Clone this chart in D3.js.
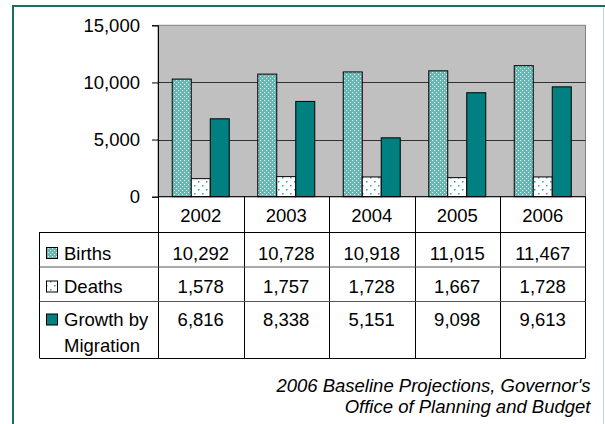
<!DOCTYPE html>
<html>
<head>
<meta charset="utf-8">
<script src="https://cdn.jsdelivr.net/npm/d3@7"></script>
<style>
  body { margin: 0; background: #fff; }
  text { font-family: "Liberation Sans", Arial, sans-serif; }
</style>
</head>
<body>
<script>
var years = ["2002", "2003", "2004", "2005", "2006"];
var seriesNames = ["Births", "Deaths", "Growth by Migration"];
var births = [10292, 10728, 10918, 11015, 11467];
var deaths = [1578, 1757, 1728, 1667, 1728];
var migration = [6816, 8338, 5151, 9098, 9613];
var yTicks = [0, 5000, 10000, 15000];

var seriesValues = [births, deaths, migration];
var fills = ["url(#birthsPat)", "url(#deathsPat)", "#008080"];

var svg = d3.select("body")
  .append("svg")
  .attr("width", 605)
  .attr("height", 424);

// patterns
var defs = svg.append("defs");
var bp = defs.append("pattern")
  .attr("id", "birthsPat")
  .attr("patternUnits", "userSpaceOnUse")
  .attr("width", 4).attr("height", 4);
bp.append("rect").attr("width", 4).attr("height", 4).attr("fill", "#62bab2");
bp.append("rect").attr("width", 1).attr("height", 1).attr("fill", "#e8f7f5");
bp.append("rect").attr("x", 2).attr("y", 2).attr("width", 1).attr("height", 1).attr("fill", "#e8f7f5");

var dp = defs.append("pattern")
  .attr("id", "deathsPat")
  .attr("patternUnits", "userSpaceOnUse")
  .attr("width", 8).attr("height", 8);
dp.append("rect").attr("width", 8).attr("height", 8).attr("fill", "#fff");
dp.append("rect").attr("x", 2).attr("y", 1).attr("width", 1.5).attr("height", 1.5).attr("fill", "#3a9e98");
dp.append("rect").attr("x", 6).attr("y", 5).attr("width", 1.5).attr("height", 1.5).attr("fill", "#3a9e98");

// frame
svg.append("line").attr("x1", 12).attr("x2", 605).attr("y1", 6).attr("y2", 6)
  .attr("stroke", "#1d6c60").attr("stroke-width", 2);
svg.append("line").attr("x1", 13).attr("x2", 13).attr("y1", 5).attr("y2", 424)
  .attr("stroke", "#1d6c60").attr("stroke-width", 2);
svg.append("line").attr("x1", 603.5).attr("x2", 603.5).attr("y1", 7).attr("y2", 424)
  .attr("stroke", "#bcd9d4").attr("stroke-width", 1);

var plotLeft = 158, plotRight = 585.5, plotTop = 25.3, plotBottom = 196.7;

var x = d3.scaleBand().domain(years).range([plotLeft, plotRight]);
var xs = d3.scaleBand().domain(d3.range(3)).range([0, x.bandwidth()])
  .paddingInner(0).paddingOuter(0.75);
var y = d3.scaleLinear().domain([0, 15000]).range([plotBottom, plotTop]);

// plot area
svg.append("rect")
  .attr("x", plotLeft).attr("y", plotTop)
  .attr("width", plotRight - plotLeft).attr("height", plotBottom - plotTop)
  .attr("fill", "#c0c0c0")
  .attr("stroke", "#808080");

svg.selectAll(".grid")
  .data(yTicks.filter(function(d){ return d > 0 && d < 15000; }))
  .enter().append("line")
  .attr("x1", plotLeft).attr("x2", plotRight)
  .attr("y1", function(d){ return Math.round(y(d)) + 0.5; })
  .attr("y2", function(d){ return Math.round(y(d)) + 0.5; })
  .attr("stroke", "#333");

// bars
seriesValues.forEach(function(vals, si) {
  svg.append("g").selectAll("rect")
    .data(vals)
    .enter().append("rect")
    .attr("x", function(d, i){ return x(years[i]) + xs(si); })
    .attr("y", function(d){ return y(d); })
    .attr("width", xs.bandwidth())
    .attr("height", function(d){ return plotBottom - y(d); })
    .attr("fill", fills[si])
    .attr("stroke", "#000")
    .attr("stroke-width", 1);
});

// y axis
var yAxis = svg.append("g")
  .attr("transform", "translate(" + plotLeft + ",0)")
  .call(d3.axisLeft(y).tickValues(yTicks).tickFormat(d3.format(",")).tickSize(6).tickPadding(12));
yAxis.select(".domain").attr("stroke", "#000");
yAxis.selectAll("text")
  .attr("font-size", 18.5)
  .attr("fill", "#000")
  .style("font-family", "'Liberation Sans', Arial, sans-serif");

// data table
var tableLeft = 39.5, headerTop = plotBottom, rowTops = [232, 266.5, 301], tableBottom = 358;

var tbl = svg.append("g").attr("stroke", "#000").attr("fill", "none");
// column lines
years.forEach(function(yr) {
  tbl.append("line")
    .attr("x1", Math.round(x(yr)) + 0.5).attr("x2", Math.round(x(yr)) + 0.5)
    .attr("y1", headerTop).attr("y2", tableBottom);
});
tbl.append("line").attr("x1", plotRight).attr("x2", plotRight)
  .attr("y1", headerTop).attr("y2", tableBottom);
tbl.append("line").attr("x1", tableLeft).attr("x2", tableLeft)
  .attr("y1", rowTops[0]).attr("y2", tableBottom);
// row lines
rowTops.forEach(function(r, i) {
  tbl.append("line")
    .attr("x1", tableLeft).attr("x2", plotRight)
    .attr("y1", r + 0.5).attr("y2", r + 0.5)
    .attr("stroke", i === 0 ? "#000" : "#555");
});
tbl.append("line").attr("x1", tableLeft).attr("x2", plotRight)
  .attr("y1", tableBottom + 0.5).attr("y2", tableBottom + 0.5);
svg.append("line").attr("x1", plotLeft).attr("x2", plotRight)
  .attr("y1", plotBottom).attr("y2", plotBottom).attr("stroke", "#000");

// header labels
svg.selectAll(".yr")
  .data(years)
  .enter().append("text")
  .attr("x", function(d){ return x(d) + x.bandwidth() / 2; })
  .attr("y", 221.5)
  .attr("text-anchor", "middle")
  .attr("font-size", 18.5)
  .text(function(d){ return d; });

var rowBaselines = [259.5, 293, 326];
var fmt = d3.format(",");

seriesValues.forEach(function(vals, si) {
  svg.append("g").selectAll("text")
    .data(vals)
    .enter().append("text")
    .attr("x", function(d, i){ return x(years[i]) + x.bandwidth() / 2; })
    .attr("y", rowBaselines[si])
    .attr("text-anchor", "middle")
    .attr("font-size", 18.5)
    .text(function(d){ return fmt(d); });

  // legend key
  svg.append("rect")
    .attr("x", 46.5).attr("y", rowBaselines[si] - 12)
    .attr("width", 11).attr("height", 11)
    .attr("fill", fills[si])
    .attr("stroke", "#000");
});

svg.append("text").attr("x", 64).attr("y", rowBaselines[0]).attr("font-size", 18.5).text("Births");
svg.append("text").attr("x", 64).attr("y", rowBaselines[1]).attr("font-size", 18.5).text("Deaths");
var gl = svg.append("text").attr("x", 64).attr("y", rowBaselines[2]).attr("font-size", 18.5);
gl.append("tspan").attr("x", 64).text("Growth by");
gl.append("tspan").attr("x", 64).attr("y", 351.5).text("Migration");

// source note
var note = svg.append("text")
  .attr("text-anchor", "end")
  .attr("font-size", 18.5)
  .attr("font-style", "italic");
note.append("tspan").attr("x", 590.5).attr("y", 391.5).text("2006 Baseline Projections, Governor's");
note.append("tspan").attr("x", 590.5).attr("y", 412.5).text("Office of Planning and Budget");
</script>
</body>
</html>
